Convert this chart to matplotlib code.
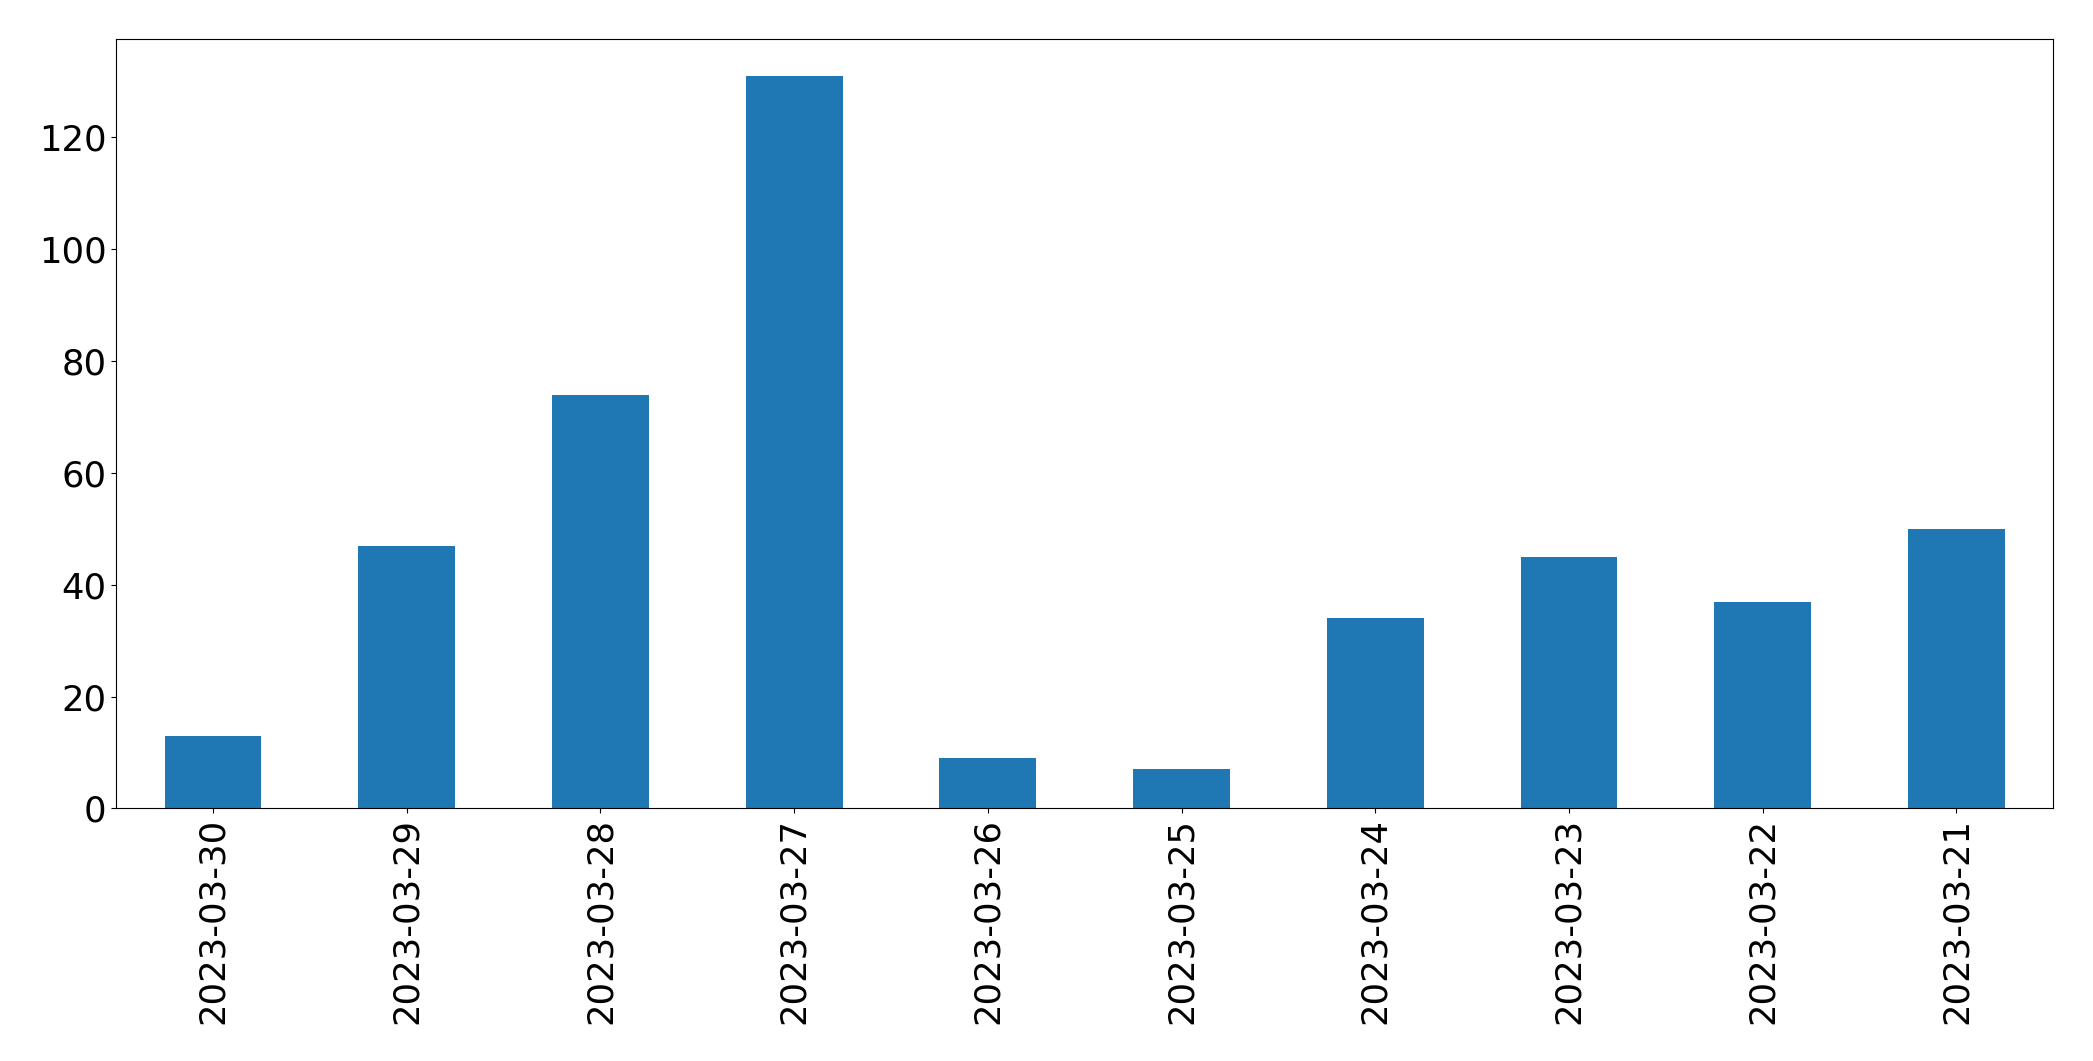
import pandas as pd
import matplotlib
matplotlib.use("Agg")
import matplotlib.pyplot as plt

dates = ["2023-03-30", "2023-03-29", "2023-03-28", "2023-03-27", "2023-03-26",
         "2023-03-25", "2023-03-24", "2023-03-23", "2023-03-22", "2023-03-21"]
counts = [13, 47, 74, 131, 9, 7, 34, 45, 37, 50]

daily_counts = pd.Series(counts, index=dates)

fig, ax = plt.subplots(figsize=(20.93, 10.61), dpi=100)
daily_counts.plot(kind="bar", ax=ax, color="#1f77b4")
ax.tick_params(axis="both", labelsize=25.5)
plt.subplots_adjust(left=0.0555, right=0.981, top=0.963, bottom=0.238)
plt.savefig("out.png")
